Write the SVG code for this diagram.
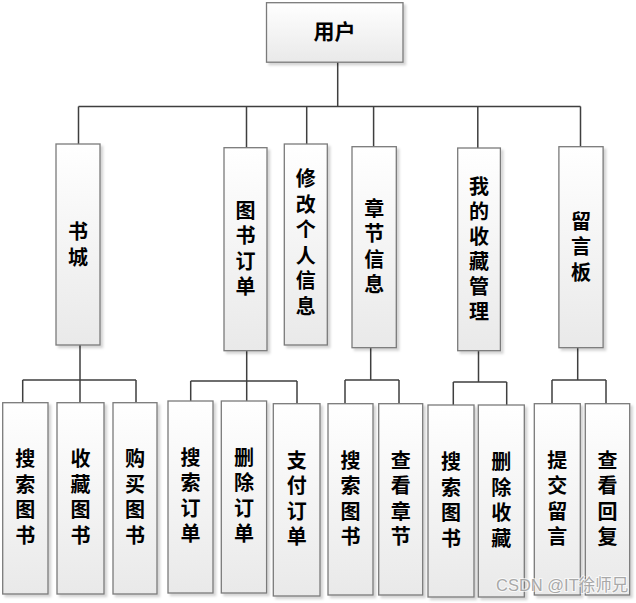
<svg xmlns="http://www.w3.org/2000/svg" width="636" height="603" viewBox="0 0 636 603">
<defs>
<linearGradient id="g" x1="0" y1="0" x2="0" y2="1">
<stop offset="0" stop-color="#ffffff"/>
<stop offset="1" stop-color="#e9e9e9"/>
</linearGradient>
<filter id="sh" x="-20%" y="-10%" width="150%" height="130%">
<feDropShadow dx="2.5" dy="2.5" stdDeviation="1" flood-color="#000" flood-opacity="0.17"/>
</filter>
</defs>
<style>
.box{fill:url(#g);stroke:#7a7a7a;stroke-width:1.3;filter:url(#sh)}
.t{font-family:"Noto Sans CJK SC","Noto Sans CJK JP",sans-serif;font-weight:bold;font-size:20px;fill:#000;text-anchor:middle}
.v{writing-mode:vertical-rl;letter-spacing:5.5px}
.c{fill:none;stroke:#3f3f3f;stroke-width:1.5}
.wm{font-family:"Liberation Sans","Noto Sans CJK SC",sans-serif;font-size:16.5px;fill:#a8a8a8;stroke:#ffffff;stroke-width:2;paint-order:stroke;stroke-opacity:0.7}
</style>
<rect width="636" height="603" fill="#ffffff"/>
<g id="connectors" class="c">
<path d="M337.7 62 V106.5 M78.5 106.5 H580.5 M78.5 106.5 V144 M246.5 106.5 V147.7 M306.7 106.5 V144 M373.6 106.5 V146.7 M477.8 106.5 V148 M580.5 106.5 V146.7"/>
<path d="M80 345 V402.7 M22.7 380 H136 M22.7 380 V402.7 M136 380 V402.7"/>
<path d="M246.7 350.7 V401 M190.7 381 H297 M190.7 381 V401 M297 381 V403.7"/>
<path d="M370.7 347.7 V380 M345 380 H399 M345 380 V403.7 M399 380 V403.7"/>
<path d="M478.5 350.7 V382 M453.3 382 H506.7 M453.3 382 V405 M506.7 382 V405"/>
<path d="M577.7 347.3 V380 M552 380 H606 M552 380 V403.7 M606 380 V403.7"/>
</g>
<g id="root"><rect class="box" x="266.5" y="2.7" width="136.5" height="59.5"/><text class="t" style="font-size:21px" x="334.5" y="38.5">用户</text></g>
<g id="shucheng"><rect class="box" x="56" y="144" width="44" height="201"/><text class="t v" x="78" y="247">书城</text></g>
<g id="tushudingdan"><rect class="box" x="224" y="147.7" width="43" height="203"/><text class="t v" x="245.5" y="251">图书订单</text></g>
<g id="xiugai"><rect class="box" x="284.3" y="144" width="43" height="201"/><text class="t v" x="305.8" y="245">修改个人信息</text></g>
<g id="zhangjie"><rect class="box" x="352" y="146.7" width="44.3" height="201"/><text class="t v" x="374.2" y="249">章节信息</text></g>
<g id="shoucang"><rect class="box" x="457.7" y="148" width="42.7" height="202.7"/><text class="t v" style="letter-spacing:5px" x="479" y="251.5">我的收藏管理</text></g>
<g id="liuyanban"><rect class="box" x="558.9" y="146.7" width="44.2" height="201"/><text class="t v" x="581" y="249.5">留言板</text></g>
<g id="c1"><rect class="box" x="2.7" y="402.7" width="45.3" height="191.3"/><text class="t v" x="25.3" y="499.5">搜索图书</text></g>
<g id="c2"><rect class="box" x="57" y="402.7" width="47" height="191.3"/><text class="t v" x="80.5" y="499.5">收藏图书</text></g>
<g id="c3"><rect class="box" x="113" y="402.7" width="44" height="191.3"/><text class="t v" x="135" y="499.5">购买图书</text></g>
<g id="c4"><rect class="box" x="168" y="401" width="45" height="192"/><text class="t v" x="190.5" y="498">搜索订单</text></g>
<g id="c5"><rect class="box" x="221.3" y="401" width="45.3" height="192"/><text class="t v" x="244" y="498">删除订单</text></g>
<g id="c6"><rect class="box" x="273.3" y="403.7" width="46.7" height="192.3"/><text class="t v" x="296.7" y="501">支付订单</text></g>
<g id="c7"><rect class="box" x="328" y="403.7" width="45" height="191.3"/><text class="t v" x="350.5" y="501">搜索图书</text></g>
<g id="c8"><rect class="box" x="378.7" y="403.7" width="44" height="191.3"/><text class="t v" x="400.7" y="501">查看章节</text></g>
<g id="c9"><rect class="box" x="428" y="405" width="46" height="192"/><text class="t v" x="451" y="502.5">搜索图书</text></g>
<g id="c10"><rect class="box" x="478.3" y="405" width="46" height="192"/><text class="t v" x="501.3" y="502.5">删除收藏</text></g>
<g id="c11"><rect class="box" x="534.3" y="403.7" width="46" height="191.3"/><text class="t v" x="557.3" y="501">提交留言</text></g>
<g id="c12"><rect class="box" x="585.3" y="403.7" width="44.4" height="191.3"/><text class="t v" x="607.5" y="501">查看回复</text></g>
<text class="wm" x="496" y="591">CSDN @IT徐师兄</text>
</svg>
